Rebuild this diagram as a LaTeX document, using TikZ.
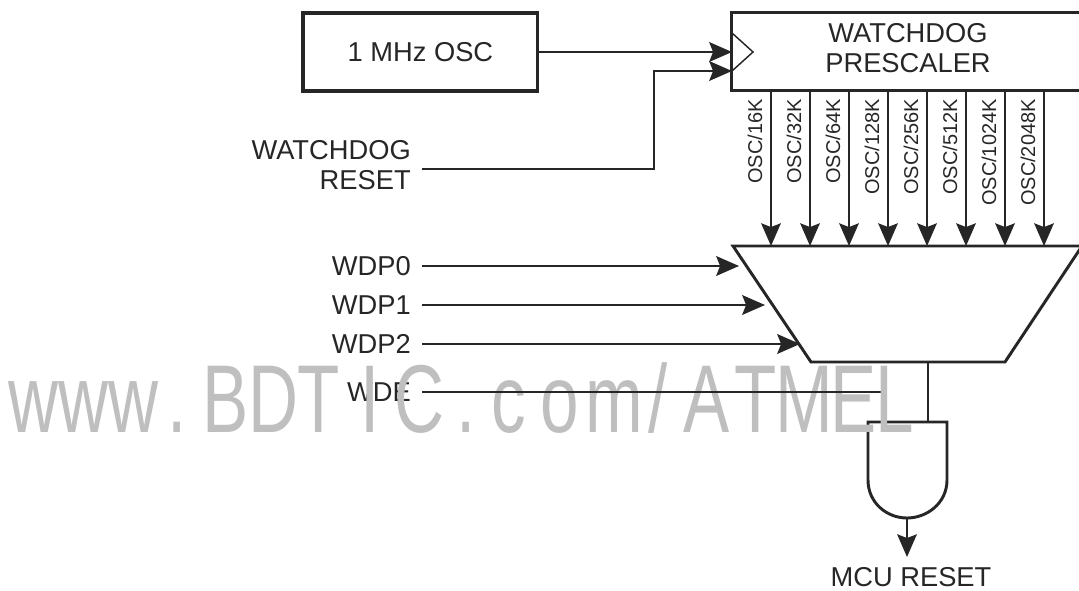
\documentclass[tikz,border=0pt]{standalone}
\usepackage{fontspec}
\setmainfont{Liberation Sans}
\usetikzlibrary{arrows.meta,positioning,calc}
\newcommand{\kn}[1]{\kern#1pt\relax}
\tikzset{
  head/.style={-{Stealth[length=6mm,width=5.2mm,inset=1mm]}},
  wire/.style={line width=1.7pt,black!85},
  sig/.style={wire,head},
  tap/.style={line width=1.2pt,black!85,head},
  blockbox/.style={draw=black!85,line width=2.4pt,inner sep=0pt,outer sep=0pt,align=center,font=\fontsize{20.5}{23}\selectfont,text=black!85},
  lab/.style={font=\fontsize{20.5}{23}\selectfont,anchor=east,align=right,text=black!85,inner sep=0pt},
  taplab/.style={font=\fontsize{15}{17}\selectfont,rotate=90,anchor=east,text=black!85,inner sep=0pt},
}
\begin{document}
\begin{tikzpicture}[x=0.0264cm,y=-0.0264cm]
\useasboundingbox (0,0) rectangle (1079,591);
% boxes
\node[blockbox,anchor=north west,minimum width=6.2cm,minimum height=2.06cm] (osc) at (303,13) {1 MHz OSC};
\node[blockbox,anchor=north west,minimum width=9.32cm,minimum height=2.05cm] (pre) at (731.5,12.5) {};
\node[lab,anchor=center,align=center] (pretxt) at (908,48) {WATCHDOG\\PRESCALER};
\draw[line width=1.1pt,black!85] (732,33) -- (753,52) -- (732,71);
% mux
\coordinate (mtl) at (733,246);
\coordinate (mtr) at (1082,246);
\coordinate (mbl) at (811,362);
\coordinate (mbr) at (1005,362);
\draw[line width=2.2pt,black!85] (mtr) -- (mtl) -- (mbl) -- (mbr) -- (mtr);
% prescaler taps
\foreach \xx/\lab in {771/16K,810/32K,849/64K,888/128K,927/256K,966/512K,1005/1024K,1044/2048K} {
  \coordinate (top\lab) at (\xx,91);
  \coordinate (bot\lab) at (\xx,246);
  \draw[tap] (top\lab) -- (bot\lab);
  \node[taplab] (t\lab) at (\xx-16,99) {OSC/\lab};
}
% inputs
\coordinate (clkin) at (732,52);
\coordinate (rstin) at (732,71);
\draw[sig] (osc.east |- clkin) -- (clkin);
\node[lab] (wdr) at (411,165) {WATCHDOG\\RESET};
\coordinate (wdrout) at (422,169);
\draw[sig] (wdrout) -- (654,169) -- (654,71) -- (rstin);
\foreach \yy/\xe/\lab in {266/739/0,305/765/1,344/800/2} {
  \node[lab] (wdp\lab) at (411,\yy) {WDP\lab};
  \coordinate (wout\lab) at (422,\yy);
  \coordinate (in\lab) at (\xe,\yy);
  \draw[sig] (wout\lab) -- (in\lab);
}
\node[lab] (wde) at (411,392) {WDE};
% and gate
\coordinate (andl) at (885,422);
\coordinate (andr) at (928,422);
\draw[line width=2.2pt,black!85] (868,422) -- (947,422) -- (947,480) .. controls (947,503) and (927,518) .. (907,518) .. controls (887,518) and (868,503) .. (868,480) -- cycle;
\coordinate (wdeout) at (422,392);
\draw[wire] (wdeout) -- (andl |- wdeout) -- (andl);
\coordinate (muxout) at (928,362);
\draw[line width=1.3pt,black!85] (muxout) -- (andr);
\coordinate (gateout) at (907,518);
\coordinate (rstout) at (907,557);
\draw[tap] (gateout) -- (rstout);
\node[lab,anchor=base] (mcu) at (911,586) {MCU RESET};
% watermark
\node[anchor=base west,inner sep=0pt,text=black!25,font=\fontsize{80}{80}\selectfont,yscale=0.905,xscale=0.65] (mark) at (8,432) {www\kn{10.4}.\kn{19}B\kn{0}D\kn{-1.2}T\kn{23}I\kn{17.3}C\kn{13.8}.\kn{18.4}c\kn{16.7}o\kn{8}m\kn{5.2}/\kn{18.4}A\kn{5.8}T\kn{-1.2}M\kn{-3.5}E\kn{-1.2}L};
\coordinate (wdeover) at (880,392);
\draw[wire] (wdeout) -- (wdeover);
\end{tikzpicture}
\end{document}
